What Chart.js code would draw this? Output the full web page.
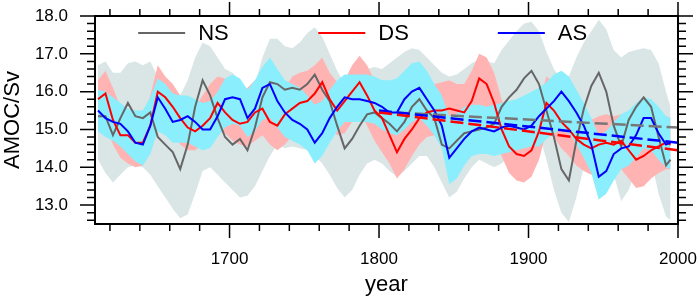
<!DOCTYPE html>
<html>
<head>
<meta charset="utf-8">
<script src="https://cdn.jsdelivr.net/npm/chart.js@4.4.0/dist/chart.umd.min.js"></script>
<style>
  html, body { margin: 0; padding: 0; background: #fff; }
</style>
</head>
<body>
<canvas id="amoc-chart" width="699" height="298"></canvas>
<script>
// years of the running-mean series (~5 yr apart)
const years = [1612,1617,1622,1627,1632,1637,1642,1647,1652,1657,1662,1667,1672,1677,1682,1687,1692,1697,1702,
  1707,1712,1717,1722,1727,1732,1737,1742,1747,1752,1757,1762,1767,1772,1777,1782,1787,1792,1797,1802,
  1807,1812,1817,1822,1827,1832,1837,1842,1847,1852,1857,1862,1867,1872,1877,1882,1887,1892,1897,1902,
  1907,1912,1917,1922,1927,1932,1937,1942,1947,1952,1957,1962,1967,1972,1977,1982,1987,1992,1995];

// NS (gray)
const nsMean = [15.35,15.35,14.85,15.3,15.7,15.35,15.3,15.45,14.8,14.6,14.4,13.95,14.6,15.6,16.3,15.9,15.3,14.8,14.6,
  14.75,14.45,15.05,15.85,16.25,16.2,16.05,16.1,16.05,16.2,16.45,16.05,15.75,15.1,14.5,14.75,15.1,15.4,15.45,15.3,
  15.15,14.95,15.2,15.6,15.8,15.5,15.3,14.6,14.5,14.7,14.9,14.95,15.0,15.05,15.15,15.6,15.85,16.05,16.35,16.55,
  16.2,15.5,14.8,13.95,13.65,14.7,15.55,16.15,16.5,16.0,15.1,14.55,15.25,15.6,15.85,15.6,14.8,14.05,14.2];
const nsHi = [16.7,16.8,16.5,16.5,16.75,16.8,16.7,16.8,16.4,16.2,16.0,15.9,16.3,16.9,17.3,17.2,16.9,16.6,16.5,
  16.3,16.05,16.2,16.9,17.4,17.4,17.2,17.15,17.3,17.55,17.7,17.45,17.0,16.55,16.2,16.3,16.5,16.6,16.65,16.6,
  16.75,16.9,17.05,17.15,17.1,16.9,16.7,16.5,16.4,16.45,16.6,16.75,16.85,16.8,16.75,17.1,17.35,17.6,17.8,17.85,
  17.6,17.05,16.6,16.3,16.4,16.9,17.3,17.6,17.9,17.65,17.1,16.9,17.05,17.1,17.15,17.1,16.75,16.0,15.6];
const nsLo = [14.2,13.85,13.6,13.8,14.0,14.05,14.0,13.8,13.5,13.2,12.9,12.65,12.75,13.3,13.9,14.0,13.8,13.6,13.4,
  13.2,13.25,13.5,13.9,14.3,14.6,14.5,14.55,14.5,14.45,14.3,14.1,13.8,13.45,13.2,13.4,13.8,14.1,14.2,14.1,
  13.9,13.75,13.9,14.1,14.3,14.3,14.0,13.6,13.2,13.35,13.7,14.0,14.2,14.1,14.0,14.1,14.3,14.6,14.9,15.2,
  14.9,14.2,13.4,12.8,12.55,13.2,14.0,14.8,15.1,14.6,13.8,13.1,13.4,13.9,14.3,14.2,13.3,12.7,12.6];

// DS (red)
const dsMean = [15.8,15.95,15.25,14.85,14.85,14.65,14.65,15.1,16.0,15.85,15.6,15.3,15.05,14.95,15.1,15.3,15.7,15.45,15.25,
  15.15,15.2,15.45,15.55,15.2,15.1,15.4,15.55,15.7,15.75,15.95,16.25,15.8,15.5,15.75,16.0,16.25,15.9,15.5,15.3,
  14.85,14.4,14.75,15.0,15.3,15.45,15.5,15.5,15.55,15.5,15.45,15.75,16.35,16.2,15.7,15.0,14.55,14.35,14.3,14.45,
  14.95,15.7,15.5,15.2,15.0,14.75,14.6,14.5,14.6,14.65,14.6,14.7,14.45,14.2,14.3,14.45,14.55,14.65,14.6];
const dsHi = [16.3,16.55,16.1,15.6,15.5,15.3,15.3,15.9,16.7,16.4,16.2,15.9,15.7,15.6,15.9,16.2,16.4,16.35,16.0,
  15.9,16.1,16.3,16.25,15.9,15.75,16.1,16.4,16.5,16.55,16.7,16.9,16.5,16.25,16.3,16.7,16.95,16.7,16.3,16.0,
  15.55,15.15,15.5,15.75,15.95,16.1,16.2,16.25,16.3,16.2,16.2,16.55,17.0,16.9,16.5,15.8,15.3,15.1,15.05,15.2,
  15.7,16.4,16.25,15.9,15.7,15.5,15.35,15.25,15.35,15.4,15.35,15.4,15.15,14.95,15.0,15.15,15.25,15.35,15.3];
const dsLo = [15.2,15.1,14.6,14.25,14.1,14.0,14.05,14.4,15.1,15.1,14.9,14.6,14.45,14.45,14.6,14.8,15.0,14.9,14.7,
  14.6,14.55,14.7,14.85,14.6,14.45,14.6,14.85,15.0,15.1,15.3,15.5,15.1,14.85,14.9,15.2,15.5,15.1,14.7,14.4,
  14.1,13.7,13.95,14.3,14.6,14.8,14.85,14.8,14.8,14.8,14.75,15.0,15.6,15.5,15.0,14.3,13.85,13.65,13.6,13.75,
  14.2,14.95,14.8,14.5,14.3,14.05,13.9,13.8,13.9,13.95,13.9,13.95,13.7,13.45,13.5,13.7,13.85,13.95,13.95];

// AS (blue)
const asMean = [15.5,15.3,15.2,15.15,14.95,14.65,14.6,15.1,15.85,15.55,15.2,15.25,15.35,15.2,15.0,15.0,15.35,15.8,15.85,
  15.8,15.3,15.55,16.1,16.2,15.75,15.45,15.25,15.15,15.0,14.65,14.9,15.3,15.6,15.85,15.8,15.8,15.75,15.7,15.6,
  15.45,15.45,15.8,16.0,16.1,15.8,15.5,15.1,14.25,14.5,14.75,14.95,15.05,15.0,14.95,15.05,15.1,15.05,15.0,15.1,
  15.35,15.55,15.75,16.0,15.75,15.45,15.1,14.6,13.75,13.9,14.35,14.5,14.55,14.85,15.3,15.3,14.9,14.6,14.65];
const asHi = [16.05,16.0,15.85,15.7,15.55,15.5,15.5,15.85,16.35,16.2,15.95,15.9,15.9,15.8,15.7,15.75,16.0,16.35,16.45,
  16.35,16.05,16.3,16.65,16.9,16.6,16.3,16.2,16.1,15.9,15.65,15.75,16.05,16.3,16.45,16.45,16.45,16.45,16.4,16.3,
  16.3,16.35,16.55,16.75,16.8,16.55,16.2,15.9,15.35,15.4,15.6,15.65,15.65,15.6,15.65,15.7,15.75,15.8,15.9,16.0,
  16.1,16.25,16.45,16.55,16.4,16.05,15.7,15.3,14.85,14.95,15.2,15.4,15.5,15.7,15.85,15.8,15.6,15.35,15.3];
const asLo = [14.95,14.8,14.7,14.55,14.35,14.15,14.05,14.35,14.95,14.85,14.65,14.65,14.65,14.55,14.45,14.5,14.8,15.05,15.15,
  15.1,14.8,14.95,15.25,15.3,15.05,14.8,14.7,14.6,14.45,14.1,14.3,14.65,14.95,15.2,15.2,15.2,15.2,15.15,15.0,
  14.9,14.85,15.0,15.2,15.3,15.1,14.85,14.5,13.55,13.7,14.05,14.3,14.35,14.35,14.3,14.35,14.4,14.45,14.5,14.55,
  14.55,14.75,14.9,15.0,14.9,14.6,14.25,13.85,13.15,13.3,13.65,13.95,14.05,14.25,14.5,14.45,14.2,14.0,13.95];

// linear trends 1800-2000
const trendYears = [1800, 2000];
const nsTrend = [15.47, 15.05];
const dsTrend = [15.45, 14.45];
const asTrend = [15.5, 14.65];

const xTicks = [1700, 1800, 1900, 2000];
const yTicks = [13, 14, 15, 16, 17, 18];

const FONT = "'Liberation Sans', Arial, Helvetica, sans-serif";

function pts(xs, ys) {
  return xs.map((x, i) => ({ x: x, y: ys[i] }));
}

function band(vals, color, fillTo, order) {
  return {
    data: pts(years, vals), backgroundColor: color, borderColor: 'rgba(0,0,0,0)',
    borderWidth: 0, pointRadius: 0, fill: fillTo, order: order
  };
}

function line(xs, vals, color, width, dash, order) {
  return {
    data: pts(xs, vals), borderColor: color, borderWidth: width, borderDash: dash,
    pointRadius: 0, fill: false, order: order, tension: 0
  };
}

// frame plus major/minor ticks on all four sides (outward)
const frameTicks = {
  id: 'frameTicks',
  afterDatasetsDraw(chart) {
    const { ctx, chartArea: a, scales: { x, y } } = chart;
    ctx.save();
    ctx.strokeStyle = '#000';
    ctx.lineWidth = 1.5;
    ctx.beginPath();
    for (let v = 1620; v <= 2000; v += 20) {
      const px = x.getPixelForValue(v);
      const len = v % 100 === 0 ? 14 : 7;
      ctx.moveTo(px, a.bottom); ctx.lineTo(px, a.bottom + len);
      ctx.moveTo(px, a.top); ctx.lineTo(px, a.top - len);
    }
    for (let i = 63; i <= 90; i++) {
      const py = y.getPixelForValue(i / 5);
      const len = i % 5 === 0 ? 15 : 8;
      ctx.moveTo(a.left, py); ctx.lineTo(a.left - len, py);
      ctx.moveTo(a.right, py); ctx.lineTo(a.right + len, py);
    }
    ctx.stroke();
    ctx.lineWidth = 2;
    ctx.strokeRect(a.left, a.top, a.right - a.left, a.bottom - a.top);
    ctx.restore();
  }
};

// legend inside the plot, one entry per series
const legendNames = ['NS', 'DS', 'AS'];
const legendColors = ['#666666', '#ff0000', '#0000ff'];
const legendPos = [0.074, 0.383, 0.691];
const inLegend = {
  id: 'inLegend',
  afterDraw(chart) {
    const { ctx, chartArea: a } = chart;
    const w = a.right - a.left;
    ctx.save();
    ctx.font = '22px ' + FONT;
    ctx.textBaseline = 'middle';
    ctx.fillStyle = '#000';
    legendNames.forEach((name, i) => {
      const x0 = a.left + legendPos[i] * w;
      const yy = a.top + 17;
      ctx.strokeStyle = legendColors[i];
      ctx.lineWidth = 2;
      ctx.beginPath();
      ctx.moveTo(x0, yy); ctx.lineTo(x0 + 47, yy);
      ctx.stroke();
      ctx.fillText(name, x0 + 60, yy + 1);
    });
    ctx.restore();
  }
};

// hidden tick marks only used to push the labels away from the frame
const hiddenGrid = len => ({
  display: true, drawOnChartArea: false, drawTicks: true, tickLength: len, color: 'rgba(0,0,0,0)'
});

const ctx = document.getElementById('amoc-chart').getContext('2d');
const chart = new Chart(ctx, {
  type: 'line',
  data: {
    datasets: [
      band(nsHi, '#dae6e6', 1, 12),
      band(nsLo, 'rgba(0,0,0,0)', false, 12),
      band(dsHi, '#ffb3b3', 3, 11),
      band(dsLo, 'rgba(0,0,0,0)', false, 11),
      band(asHi, '#8aeefc', 5, 10),
      band(asLo, 'rgba(0,0,0,0)', false, 10),
      line(years, nsMean, '#666666', 2, [], 3),
      line(years, dsMean, '#ff0000', 2, [], 2),
      line(years, asMean, '#0000ff', 2, [], 1),
      line(trendYears, nsTrend, '#777777', 2.5, [13, 5], -1),
      line(trendYears, asTrend, '#0000ff', 2.5, [13, 5], -2),
      line(trendYears, dsTrend, '#ff0000', 2.5, [13, 5], -3)
    ]
  },
  options: {
    responsive: false,
    animation: false,
    layout: { padding: { left: 0, right: 21, top: 16, bottom: 0 } },
    plugins: {
      legend: { display: false },
      tooltip: { enabled: false },
      filler: { drawTime: 'beforeDatasetsDraw' }
    },
    scales: {
      x: {
        type: 'linear', min: 1610, max: 2000,
        grid: hiddenGrid(25),
        border: { display: false },
        afterBuildTicks: s => { s.ticks = xTicks.map(v => ({ value: v })); },
        afterFit: s => { s.height = 74; },
        ticks: { color: '#000', font: { family: FONT, size: 17 }, padding: 0, maxRotation: 0, callback: v => String(v) },
        title: { display: true, text: 'year', color: '#000', font: { family: FONT, size: 22 }, padding: { top: 0, bottom: 0 } }
      },
      y: {
        type: 'linear', min: 12.5, max: 18,
        grid: hiddenGrid(27),
        border: { display: false },
        afterBuildTicks: s => { s.ticks = yTicks.map(v => ({ value: v })); },
        afterFit: s => { s.width = 95; },
        ticks: { color: '#000', font: { family: FONT, size: 17 }, padding: 0, callback: v => v.toFixed(1) },
        title: { display: true, text: 'AMOC/Sv', color: '#000', font: { family: FONT, size: 22 }, padding: 0 }
      }
    }
  },
  plugins: [frameTicks, inLegend]
});
</script>
</body>
</html>
